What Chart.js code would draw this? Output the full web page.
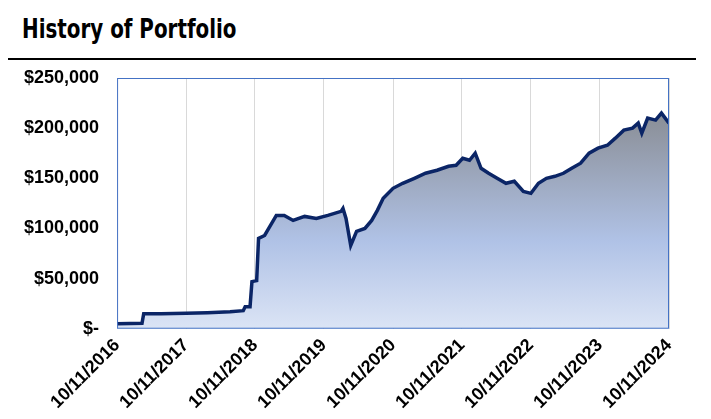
<!DOCTYPE html>
<html>
<head>
<meta charset="utf-8">
<script src="https://cdn.jsdelivr.net/npm/chart.js@4"></script>
<style>
  body { margin: 0; background: #fff; }
  #wrap { position: relative; width: 711px; height: 419px; }
  #title { position: absolute; left: 22px; top: 14px; font: bold 26px "DejaVu Sans Condensed", sans-serif; color: #000; transform: scaleX(0.85); transform-origin: left; }
  #rule { position: absolute; left: 8px; top: 58px; width: 688px; height: 2px; background: #000; }
  canvas { position: absolute; left: 0; top: 0; }
</style>
</head>
<body>
<div id="wrap">
  <div id="title">History of Portfolio</div>
  <div id="rule"></div>
  <canvas id="c" width="711" height="419"></canvas>
</div>
<script>
// portfolio value by date
const dates = [
  '2016-10-11','2017-02-20','2017-03-01','2017-06-01','2017-10-11','2018-02-01','2018-06-01','2018-08-10',
  '2018-08-20','2018-09-15','2018-09-25','2018-10-20','2018-10-30','2018-12-01','2019-02-01','2019-03-15',
  '2019-05-01','2019-07-01','2019-09-01','2019-11-01','2020-01-10','2020-01-20','2020-02-05','2020-03-01',
  '2020-04-01','2020-05-15','2020-06-20','2020-07-20','2020-08-20','2020-10-11','2020-12-01','2021-02-01',
  '2021-04-01','2021-06-01','2021-08-01','2021-09-10','2021-10-15','2021-11-20','2021-12-20','2022-01-20',
  '2022-03-01','2022-04-15','2022-06-01','2022-07-15','2022-09-01','2022-10-11','2022-11-20','2023-01-01',
  '2023-02-15','2023-04-01','2023-05-15','2023-07-01','2023-08-15','2023-10-01','2023-11-20','2024-01-01',
  '2024-02-15','2024-04-01','2024-05-01','2024-05-20','2024-06-20','2024-08-01','2024-09-01','2024-10-11'
];
const values = [
  5000, 5500, 15000, 15000, 15500, 16000, 17000, 18000,
  22000, 22000, 47000, 48000, 90000, 93000, 113000, 113000,
  108000, 112000, 110000, 113000, 117000, 120000, 110000, 83000,
  97000, 100000, 108000, 118000, 130000, 140000, 145000, 150000,
  155000, 158000, 162000, 163000, 170000, 168000, 175000, 160000,
  155000, 150000, 145000, 147000, 137000, 135000, 145000, 150000,
  152000, 155000, 160000, 165000, 175000, 180000, 183000, 190000,
  198000, 200000, 205000, 195000, 210000, 208000, 215000, 205000
];
const yTicks = [0, 50000, 100000, 150000, 200000, 250000];
const xTickLabels = ['10/11/2016','10/11/2017','10/11/2018','10/11/2019','10/11/2020','10/11/2021','10/11/2022','10/11/2023','10/11/2024'];

const DAY = 86400000;
const t0 = Date.parse('2016-10-11');
const toDay = s => (Date.parse(s) - t0) / DAY;
const tickDays = xTickLabels.map(l => { const p = l.split('/'); return toDay(p[2] + '-' + p[0] + '-' + p[1]); });
const points = dates.map((d, i) => ({ x: toDay(d), y: values[i] }));

new Chart(document.getElementById('c'), {
  type: 'line',
  data: {
    datasets: [{
      data: points,
      borderColor: '#0b2566',
      borderWidth: 3.5,
      pointRadius: 0,
      tension: 0,
      fill: 'origin',
      backgroundColor: ctx => {
        const a = ctx.chart.chartArea;
        if (!a) return '#aabbdd';
        const g = ctx.chart.ctx.createLinearGradient(0, a.top, 0, a.bottom);
        g.addColorStop(0, '#7f7f7f');
        g.addColorStop(0.65, '#b0c2e6');
        g.addColorStop(1, '#dbe4f5');
        return g;
      }
    }]
  },
  options: {
    responsive: false,
    animation: false,
    layout: { padding: { top: 78, right: 42, left: 14, bottom: 0 } },
    plugins: { legend: { display: false }, tooltip: { enabled: false } },
    scales: {
      x: {
        type: 'linear',
        min: tickDays[0], max: tickDays[tickDays.length - 1],
        afterBuildTicks: ax => { ax.ticks = tickDays.map(v => ({ value: v })); },
        ticks: {
          autoSkip: false, maxRotation: 45, minRotation: 45, color: '#000', padding: 6,
          font: { family: 'Liberation Sans', size: 18, weight: 'bold' },
          callback: (v, i) => xTickLabels[i]
        },
        grid: { color: '#d9d9d9', drawTicks: false },
        border: { display: false }
      },
      y: {
        min: 0, max: 250000,
        afterBuildTicks: ax => { ax.ticks = yTicks.map(v => ({ value: v })); },
        ticks: {
          color: '#000', padding: 10,
          font: { family: 'Liberation Sans', size: 18, weight: 'bold' },
          callback: v => v === 0 ? '$-' : '$' + v.toLocaleString('en-US')
        },
        grid: { display: false },
        border: { display: false }
      }
    }
  },
  plugins: [{
    id: 'frame',
    afterDraw: chart => {
      const a = chart.chartArea, c = chart.ctx;
      c.save();
      c.strokeStyle = '#4472c4';
      c.lineWidth = 1;
      c.strokeRect(a.left + 0.5, a.top + 0.5, a.width - 1, a.height - 1);
      c.restore();
    }
  }]
});
</script>
</body>
</html>
